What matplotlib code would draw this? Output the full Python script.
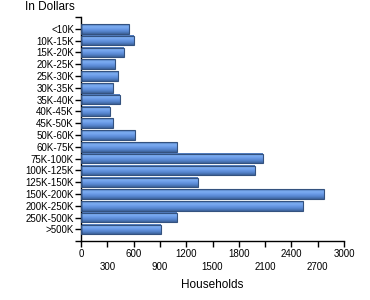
import numpy as np
import matplotlib
matplotlib.use('Agg')
import matplotlib.pyplot as plt
from matplotlib.colors import LinearSegmentedColormap

plt.rcParams['font.family'] = ['Liberation Sans', 'DejaVu Sans']

categories = ['<10K', '10K-15K', '15K-20K', '20K-25K', '25K-30K', '30K-35K',
              '35K-40K', '40K-45K', '45K-50K', '50K-60K', '60K-75K', '75K-100K',
              '100K-125K', '125K-150K', '150K-200K', '200K-250K', '250K-500K', '>500K']
households = [544, 601, 487, 384, 426, 361, 441, 327, 361, 612, 1092, 2073,
              1982, 1331, 2769, 2529, 1092, 909]
xticks = [0, 300, 600, 900, 1200, 1500, 1800, 2100, 2400, 2700, 3000]

fig = plt.figure(figsize=(3.7, 3.0), dpi=100)
ax = fig.add_axes([81 / 370, 1 - 241 / 300, 263 / 370, 224 / 300])

# bar gradient: dark edge -> light blue -> dark edge
cmap = LinearSegmentedColormap.from_list(
    'bar', ['#4a74b4', '#7eaef2', '#6a9ae6', '#5584cc', '#3d6299'])
grad = np.linspace(0, 1, 64).reshape(-1, 1)

ypos = np.arange(len(categories))
h = 0.8
for y, v in zip(ypos, households):
    ax.imshow(grad, cmap=cmap, aspect='auto', interpolation='bilinear',
              extent=(0, v, y + h / 2, y - h / 2), zorder=2)
ax.barh(ypos, households, height=h, facecolor='none',
        edgecolor='#34527f', linewidth=0.8, zorder=3)

ax.set_xlim(0, 3000)
ax.set_ylim(len(categories) - 0.02, -1)

ax.set_yticks(ypos)
ax.set_yticklabels(categories, fontsize=7)
ax.set_yticks([-1, len(categories) - 0.02], minor=True)
ax.tick_params(axis='y', which='both', length=4, width=1, pad=1)

ax.set_xticks(xticks)
ax.set_xticklabels([str(t) if i % 2 == 0 else '\n' + str(t)
                    for i, t in enumerate(xticks)], fontsize=7, linespacing=1.35)
ax.tick_params(axis='x', length=4, width=1, pad=2)

for s in ['top', 'right']:
    ax.spines[s].set_visible(False)
for s in ['left', 'bottom']:
    ax.spines[s].set_linewidth(1)

ax.set_xlabel('Households', fontsize=8.5, labelpad=5)
fig.text(25 / 370, 1 - 7 / 300, 'In Dollars', fontsize=8.5, va='center', ha='left')

fig.savefig('out.png', dpi=100)
